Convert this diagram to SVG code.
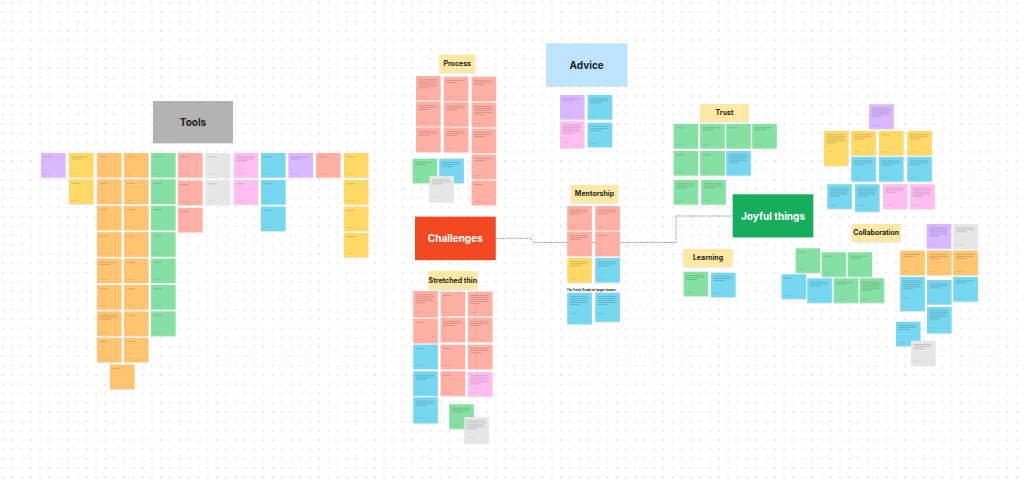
<svg xmlns="http://www.w3.org/2000/svg" xmlns:xlink="http://www.w3.org/1999/xlink" width="1024" height="479" viewBox="0 0 1024 479">
<defs>
<pattern id="dots" width="9.3" height="9.3" patternUnits="userSpaceOnUse" x="2" y="2"><circle cx="1" cy="1" r="0.7" fill="#c2c2c2"/></pattern>
<filter id="sh" x="-10%" y="-10%" width="130%" height="140%"><feDropShadow dx="0" dy="0.6" stdDeviation="0.5" flood-color="#000" flood-opacity="0.18"/></filter>
<symbol id="t1" overflow="visible"><rect class="tl" x="2.5" y="3.5" width="8" height="0.7"/><rect class="ft" x="2.5" y="20.6" width="7" height="0.6"/></symbol>
<symbol id="t2" overflow="visible"><rect class="tl" x="2.5" y="3.5" width="17" height="0.7"/><rect class="tl" x="2.5" y="5.5" width="11" height="0.7"/><rect class="ft" x="2.5" y="20.6" width="7" height="0.6"/></symbol>
<symbol id="t3" overflow="visible"><rect class="tl" x="2.5" y="3.5" width="18" height="0.7"/><rect class="tl" x="2.5" y="5.5" width="18" height="0.7"/><rect class="tl" x="2.5" y="7.5" width="11" height="0.7"/><rect class="ft" x="2.5" y="20.6" width="7" height="0.6"/></symbol>
<symbol id="t5" overflow="visible"><rect class="tl" x="2.5" y="3.5" width="18" height="0.7"/><rect class="tl" x="2.5" y="5.5" width="19" height="0.7"/><rect class="tl" x="2.5" y="7.5" width="17" height="0.7"/><rect class="tl" x="2.5" y="9.5" width="18" height="0.7"/><rect class="tl" x="2.5" y="11.5" width="10" height="0.7"/><rect class="ft" x="2.5" y="20.6" width="7" height="0.6"/></symbol>
</defs>
<style>
.n{filter:url(#sh)}
.Y{fill:#FFD966}.O{fill:#FFC470}.R{fill:#FFAFA3}.G{fill:#85E0A3}.B{fill:#75D7F0}.P{fill:#D9B8FF}.K{fill:#FFBDF2}.W{fill:#E6E6E6}
.tl{fill:#000;fill-opacity:.22}.ft{fill:#000;fill-opacity:.13}
.hd{fill:#FFE8A3;filter:url(#sh)}
.h{font-family:Inter,"Liberation Sans",sans-serif;font-weight:700;text-anchor:middle;dominant-baseline:central;fill:#1e1e1e}
.hs{font-size:7px}.hb{font-size:10px}.wt{fill:#ffffff}
.cn{fill:none;stroke:#707070;stroke-width:0.8;stroke-dasharray:1.4 1}
</style>
<rect width="1024" height="479" fill="#ffffff"/>
<rect width="1024" height="479" fill="url(#dots)"/>

<g id="connectors">
<path class="cn" d="M495.5,238.3 H530.5 L534,242.5 H676 V216 H732.7"/>
</g>

<g id="tools">
<rect x="153" y="101" width="80" height="42" fill="#B3B3B3" class="n"/>
<text class="h hb" x="193" y="122">Tools</text>
<rect class="n P" x="41" y="153" width="24.5" height="24.5"/><use href="#t1" x="41" y="153"/>
<rect class="n Y" x="69" y="153" width="24.5" height="24.5"/><use href="#t2" x="69" y="153"/>
<rect class="n Y" x="69" y="179.4" width="24.5" height="24.5"/><use href="#t1" x="69" y="179.4"/>
<rect class="n O" x="97" y="153" width="24.5" height="24.5"/><use href="#t1" x="97" y="153"/>
<rect class="n O" x="97" y="179.4" width="24.5" height="24.5"/><use href="#t1" x="97" y="179.4"/>
<rect class="n O" x="97" y="205.8" width="24.5" height="24.5"/><use href="#t1" x="97" y="205.8"/>
<rect class="n O" x="97" y="232.2" width="24.5" height="24.5"/><use href="#t1" x="97" y="232.2"/>
<rect class="n O" x="97" y="258.6" width="24.5" height="24.5"/><use href="#t2" x="97" y="258.6"/>
<rect class="n O" x="97" y="285" width="24.5" height="24.5"/><use href="#t1" x="97" y="285"/>
<rect class="n O" x="97" y="311.4" width="24.5" height="24.5"/><use href="#t3" x="97" y="311.4"/>
<rect class="n O" x="97" y="337.8" width="24.5" height="24.5"/><use href="#t1" x="97" y="337.8"/>
<rect class="n O" x="124" y="153" width="24.5" height="24.5"/><use href="#t1" x="124" y="153"/>
<rect class="n O" x="124" y="179.4" width="24.5" height="24.5"/><use href="#t1" x="124" y="179.4"/>
<rect class="n O" x="124" y="205.8" width="24.5" height="24.5"/><use href="#t1" x="124" y="205.8"/>
<rect class="n O" x="124" y="232.2" width="24.5" height="24.5"/><use href="#t1" x="124" y="232.2"/>
<rect class="n O" x="124" y="258.6" width="24.5" height="24.5"/><use href="#t1" x="124" y="258.6"/>
<rect class="n O" x="124" y="285" width="24.5" height="24.5"/><use href="#t1" x="124" y="285"/>
<rect class="n O" x="124" y="311.4" width="24.5" height="24.5"/><use href="#t1" x="124" y="311.4"/>
<rect class="n O" x="124" y="337.8" width="24.5" height="24.5"/><use href="#t1" x="124" y="337.8"/>
<rect class="n O" x="110" y="364.5" width="24.5" height="24.5"/><use href="#t1" x="110" y="364.5"/>
<rect class="n G" x="151" y="153" width="24.5" height="24.5"/><use href="#t1" x="151" y="153"/>
<rect class="n G" x="151" y="179.4" width="24.5" height="24.5"/><use href="#t1" x="151" y="179.4"/>
<rect class="n G" x="151" y="205.8" width="24.5" height="24.5"/><use href="#t1" x="151" y="205.8"/>
<rect class="n G" x="151" y="232.2" width="24.5" height="24.5"/><use href="#t1" x="151" y="232.2"/>
<rect class="n G" x="151" y="258.6" width="24.5" height="24.5"/><use href="#t1" x="151" y="258.6"/>
<rect class="n G" x="151" y="285" width="24.5" height="24.5"/><use href="#t1" x="151" y="285"/>
<rect class="n G" x="151" y="311.4" width="24.5" height="24.5"/><use href="#t1" x="151" y="311.4"/>
<rect class="n R" x="178" y="153" width="24.5" height="24.5"/><use href="#t1" x="178" y="153"/>
<rect class="n R" x="178" y="180.5" width="24.5" height="24.5"/><use href="#t1" x="178" y="180.5"/>
<rect class="n R" x="178" y="207.8" width="24.5" height="24.5"/><use href="#t1" x="178" y="207.8"/>
<rect class="n W" x="205.7" y="153" width="24.5" height="24.5"/><use href="#t1" x="205.7" y="153"/>
<rect class="n W" x="205.7" y="180" width="24.5" height="24.5"/><use href="#t1" x="205.7" y="180"/>
<rect class="n K" x="233.7" y="153" width="24.5" height="24.5"/><use href="#t3" x="233.7" y="153"/>
<rect class="n K" x="233.7" y="180" width="24.5" height="24.5"/><use href="#t1" x="233.7" y="180"/>
<rect class="n B" x="261" y="153" width="24.5" height="24.5"/><use href="#t1" x="261" y="153"/>
<rect class="n B" x="261" y="180" width="24.5" height="24.5"/><use href="#t1" x="261" y="180"/>
<rect class="n B" x="261" y="206.6" width="24.5" height="24.5"/><use href="#t1" x="261" y="206.6"/>
<rect class="n P" x="288.5" y="153" width="24.5" height="24.5"/><use href="#t2" x="288.5" y="153"/>
<rect class="n R" x="316" y="153" width="24.5" height="24.5"/><use href="#t1" x="316" y="153"/>
<rect class="n Y" x="344" y="153" width="24.5" height="24.5"/><use href="#t1" x="344" y="153"/>
<rect class="n Y" x="344" y="180" width="24.5" height="24.5"/><use href="#t1" x="344" y="180"/>
<rect class="n Y" x="344" y="206.6" width="24.5" height="24.5"/><use href="#t1" x="344" y="206.6"/>
<rect class="n Y" x="344" y="232.8" width="24.5" height="24.5"/><use href="#t1" x="344" y="232.8"/>
</g>

<g id="process">
<rect class="hd" x="439" y="54.7" width="36.3" height="18"/>
<text class="h hs" x="457.2" y="63.7">Process</text>
<rect class="n R" x="416" y="76" width="24.5" height="24.5"/><use href="#t5" x="416" y="76"/>
<rect class="n R" x="416" y="101.8" width="24.5" height="24.5"/><use href="#t3" x="416" y="101.8"/>
<rect class="n R" x="416" y="127.4" width="24.5" height="24.5"/><use href="#t3" x="416" y="127.4"/>
<rect class="n R" x="443.8" y="76.6" width="24.5" height="24.5"/><use href="#t2" x="443.8" y="76.6"/>
<rect class="n R" x="443.8" y="102.2" width="24.5" height="24.5"/><use href="#t3" x="443.8" y="102.2"/>
<rect class="n R" x="443.8" y="127.8" width="24.5" height="24.5"/><use href="#t3" x="443.8" y="127.8"/>
<rect class="n R" x="471.7" y="76.7" width="24.5" height="24.5"/><use href="#t3" x="471.7" y="76.7"/>
<rect class="n R" x="471.7" y="102.7" width="24.5" height="24.5"/><use href="#t5" x="471.7" y="102.7"/>
<rect class="n R" x="471.7" y="128.7" width="24.5" height="24.5"/><use href="#t3" x="471.7" y="128.7"/>
<rect class="n R" x="471.7" y="154.7" width="24.5" height="24.5"/><use href="#t2" x="471.7" y="154.7"/>
<rect class="n R" x="471.7" y="180.7" width="24.5" height="24.5"/><use href="#t1" x="471.7" y="180.7"/>
<rect class="n G" x="412.7" y="158.7" width="24.5" height="24.5"/><use href="#t2" x="412.7" y="158.7"/>
<rect class="n B" x="439.3" y="158.7" width="24.5" height="24.5"/><use href="#t3" x="439.3" y="158.7"/>
<rect class="n W" x="429.3" y="176" width="24.7" height="25.7"/><use href="#t3" x="429.3" y="176"/>
</g>

<g id="challenges">
<rect x="415" y="216.7" width="80.7" height="43.3" fill="#F24822" class="n"/>
<text class="h hb wt" x="455.3" y="238.4">Challenges</text>
</g>

<g id="stretched-thin">
<rect class="hd" x="428.3" y="271" width="49" height="18"/>
<text class="h hs" x="452.8" y="280">Stretched thin</text>
<rect class="n R" x="413.3" y="291" width="24.5" height="26.3"/><use href="#t5" x="413.3" y="291"/>
<rect class="n R" x="413.3" y="318.7" width="24.5" height="24.5"/><use href="#t1" x="413.3" y="318.7"/>
<rect class="n B" x="413.3" y="344.7" width="24.5" height="24.5"/><use href="#t1" x="413.3" y="344.7"/>
<rect class="n B" x="413.3" y="371.3" width="24.5" height="24.5"/><use href="#t3" x="413.3" y="371.3"/>
<rect class="n B" x="413.3" y="397.3" width="24.5" height="26"/><use href="#t3" x="413.3" y="397.3"/>
<rect class="n R" x="440.7" y="291.7" width="24.5" height="24.5"/><use href="#t1" x="440.7" y="291.7"/>
<rect class="n R" x="440.7" y="317.7" width="24.5" height="24.5"/><use href="#t3" x="440.7" y="317.7"/>
<rect class="n R" x="440.7" y="344.7" width="24.5" height="24.5"/><use href="#t1" x="440.7" y="344.7"/>
<rect class="n R" x="440.7" y="371.3" width="24.5" height="24.5"/><use href="#t1" x="440.7" y="371.3"/>
<rect class="n R" x="468" y="291.7" width="24.5" height="24.5"/><use href="#t5" x="468" y="291.7"/>
<rect class="n R" x="468" y="317.7" width="24.5" height="24.5"/><use href="#t3" x="468" y="317.7"/>
<rect class="n R" x="468" y="344.7" width="24.5" height="24.5"/><use href="#t3" x="468" y="344.7"/>
<rect class="n K" x="468" y="372" width="24.5" height="24.5"/><use href="#t5" x="468" y="372"/>
<rect class="n G" x="449.3" y="404.3" width="24.5" height="24.5"/><use href="#t3" x="449.3" y="404.3"/>
<rect class="n W" x="464.3" y="417" width="24.5" height="26.3"/><use href="#t5" x="464.3" y="417"/>
</g>

<g id="advice">
<rect x="546" y="43.3" width="81.3" height="42.7" fill="#BDE3FF" class="n"/>
<text class="h hb" x="586.7" y="64.7">Advice</text>
<rect class="n P" x="560" y="95" width="24.5" height="24.5"/><use href="#t2" x="560" y="95"/>
<rect class="n B" x="587.7" y="95" width="24.5" height="24.5"/><use href="#t3" x="587.7" y="95"/>
<rect class="n K" x="560" y="121.3" width="24.5" height="27"/><use href="#t5" x="560" y="121.3"/>
<rect class="n B" x="587.7" y="122.7" width="24.5" height="24.5"/><use href="#t3" x="587.7" y="122.7"/>
</g>

<g id="mentorship">
<rect class="hd" x="570.7" y="185" width="47.6" height="17.7"/>
<text class="h hs" x="594.5" y="193.9">Mentorship</text>
<rect class="n R" x="567.3" y="206" width="24.5" height="24.5"/><use href="#t3" x="567.3" y="206"/>
<rect class="n R" x="595.3" y="206" width="24.5" height="24.5"/><use href="#t3" x="595.3" y="206"/>
<rect class="n R" x="567.3" y="231.7" width="24.5" height="24.5"/><use href="#t3" x="567.3" y="231.7"/>
<rect class="n R" x="595.3" y="231.7" width="24.5" height="24.5"/><use href="#t1" x="595.3" y="231.7"/>
<rect class="n Y" x="567.3" y="258" width="24.5" height="24.5"/><use href="#t3" x="567.3" y="258"/>
<rect class="n B" x="595.3" y="258" width="24.5" height="24.5"/><use href="#t3" x="595.3" y="258"/>
<text x="567.3" y="289.5" font-family="Inter, 'Liberation Sans', sans-serif" font-weight="700" font-size="3.2" fill="#1e1e1e" dominant-baseline="central">For fresh Grads or larger teams</text>
<rect class="n B" x="567.3" y="292.7" width="24.5" height="31.6"/><use href="#t5" x="567.3" y="292.7"/>
<rect class="n B" x="595.3" y="292.7" width="24.5" height="29"/><use href="#t5" x="595.3" y="292.7"/>
</g>

<g id="trust">
<rect class="hd" x="700" y="104" width="49" height="17.7"/>
<text class="h hs" x="724.5" y="112.9">Trust</text>
<rect class="n G" x="673.7" y="124" width="24.5" height="24.5"/><use href="#t1" x="673.7" y="124"/>
<rect class="n G" x="700.3" y="124" width="24.5" height="24.5"/><use href="#t2" x="700.3" y="124"/>
<rect class="n G" x="726.3" y="124" width="24.5" height="24.5"/><use href="#t1" x="726.3" y="124"/>
<rect class="n G" x="752.3" y="124" width="24.5" height="24.5"/><use href="#t2" x="752.3" y="124"/>
<rect class="n G" x="673.7" y="151" width="24.5" height="24.5"/><use href="#t1" x="673.7" y="151"/>
<rect class="n G" x="700.3" y="151" width="24.5" height="24.5"/><use href="#t1" x="700.3" y="151"/>
<rect class="n B" x="726.3" y="151" width="24.5" height="24.5"/><use href="#t5" x="726.3" y="151"/>
<rect class="n G" x="673.7" y="180" width="24.5" height="24.5"/><use href="#t3" x="673.7" y="180"/>
<rect class="n G" x="701.3" y="180" width="24.5" height="24.5"/><use href="#t3" x="701.3" y="180"/>
</g>

<g id="joyful-things">
<rect x="732.7" y="194.3" width="80.6" height="43" fill="#14AE5C" class="n"/>
<text class="h hb wt" x="773" y="215.8">Joyful things</text>
</g>

<g id="learning">
<rect class="hd" x="683.3" y="249" width="49.4" height="17.7"/>
<text class="h hs" x="708" y="257.9">Learning</text>
<rect class="n G" x="683.7" y="271.7" width="24.5" height="24.5"/><use href="#t3" x="683.7" y="271.7"/>
<rect class="n B" x="711" y="272.7" width="24.5" height="24.5"/><use href="#t3" x="711" y="272.7"/>
</g>

<g id="cluster-right-top">
<rect class="n P" x="869.3" y="104.3" width="24.5" height="24.5"/><use href="#t5" x="869.3" y="104.3"/>
<rect class="n Y" x="824" y="131" width="24.5" height="34.7"/><use href="#t5" x="824" y="131"/>
<rect class="n Y" x="851.3" y="131" width="24.5" height="24.5"/><use href="#t3" x="851.3" y="131"/>
<rect class="n Y" x="879" y="131" width="24.5" height="24.5"/><use href="#t1" x="879" y="131"/>
<rect class="n Y" x="907.3" y="131" width="24.5" height="24.5"/><use href="#t3" x="907.3" y="131"/>
<rect class="n B" x="851.3" y="157" width="24.5" height="24.5"/><use href="#t3" x="851.3" y="157"/>
<rect class="n B" x="879" y="157" width="24.5" height="24.5"/><use href="#t3" x="879" y="157"/>
<rect class="n B" x="907.3" y="157" width="24.5" height="24.5"/><use href="#t3" x="907.3" y="157"/>
<rect class="n B" x="827.3" y="184.3" width="24.5" height="24.5"/><use href="#t5" x="827.3" y="184.3"/>
<rect class="n B" x="855" y="184.3" width="24.5" height="27.4"/><use href="#t5" x="855" y="184.3"/>
<rect class="n K" x="883" y="184.3" width="24.5" height="24.5"/><use href="#t3" x="883" y="184.3"/>
<rect class="n K" x="910.3" y="184.3" width="24.5" height="24.5"/><use href="#t5" x="910.3" y="184.3"/>
</g>

<g id="cluster-joyful-left">
<rect class="n G" x="795.7" y="248.3" width="24.5" height="24.5"/><use href="#t1" x="795.7" y="248.3"/>
<rect class="n G" x="821.7" y="252.3" width="24.5" height="24.5"/><use href="#t1" x="821.7" y="252.3"/>
<rect class="n G" x="847.7" y="252.3" width="24.5" height="24.5"/><use href="#t2" x="847.7" y="252.3"/>
<rect class="n B" x="781.7" y="274.3" width="24.5" height="24.5"/><use href="#t1" x="781.7" y="274.3"/>
<rect class="n B" x="807.3" y="278.3" width="24.5" height="24.5"/><use href="#t3" x="807.3" y="278.3"/>
<rect class="n G" x="833.7" y="278.3" width="24.5" height="24.5"/><use href="#t2" x="833.7" y="278.3"/>
<rect class="n G" x="859.7" y="278.3" width="24.5" height="24.5"/><use href="#t5" x="859.7" y="278.3"/>
</g>

<g id="collaboration">
<rect class="hd" x="851.7" y="224" width="49" height="17.7"/>
<text class="h hs" x="876.2" y="232.9">Collaboration</text>
<rect class="n P" x="926.7" y="224" width="24.5" height="24.5"/><use href="#t5" x="926.7" y="224"/>
<rect class="n W" x="953.3" y="224" width="24.5" height="24.5"/><use href="#t3" x="953.3" y="224"/>
<rect class="n O" x="900.3" y="250.7" width="24.5" height="24.5"/><use href="#t2" x="900.3" y="250.7"/>
<rect class="n O" x="927" y="250.7" width="24.5" height="24.5"/><use href="#t3" x="927" y="250.7"/>
<rect class="n O" x="953.3" y="250.7" width="24.5" height="24.5"/><use href="#t3" x="953.3" y="250.7"/>
<rect class="n B" x="900.3" y="277" width="24.5" height="34"/><use href="#t5" x="900.3" y="277"/>
<rect class="n B" x="927" y="280" width="24.5" height="24.5"/><use href="#t3" x="927" y="280"/>
<rect class="n B" x="953.3" y="277" width="24.5" height="24.5"/><use href="#t2" x="953.3" y="277"/>
<rect class="n B" x="927" y="307" width="24.5" height="26.3"/><use href="#t5" x="927" y="307"/>
<rect class="n B" x="896" y="321.7" width="24.5" height="24.5"/><use href="#t3" x="896" y="321.7"/>
<rect class="n W" x="911" y="340.7" width="24.5" height="24.5"/><use href="#t3" x="911" y="340.7"/>
</g>
</svg>
